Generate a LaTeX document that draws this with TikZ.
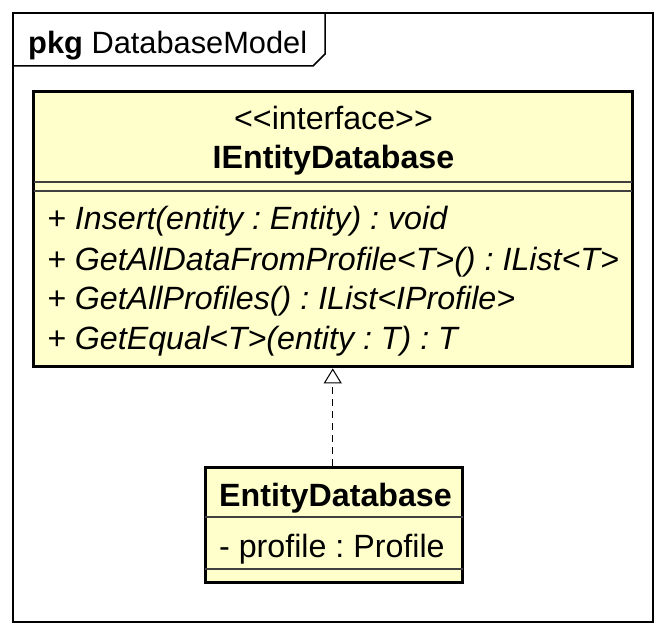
\documentclass[tikz,border=0pt]{standalone}
\usepackage{fontspec}
\setmainfont{Liberation Sans}
\usetikzlibrary{arrows.meta}

\definecolor{umlfill}{RGB}{255,255,204}

\tikzset{
  classbox/.style={draw=black, line width=3pt, fill=umlfill, inner sep=0pt},
  sepline/.style={draw=black!75, line width=1.5pt},
  umltext/.style={inner sep=0pt, font=\fontsize{32.2}{38}\selectfont},
  realize/.style={dash pattern=on 7pt off 5pt, line width=1pt,
    -{Triangle[open, width=18pt, length=15pt]}},
}

\begin{document}
\frenchspacing
\begin{tikzpicture}[x=1pt, y=-1pt]
\useasboundingbox (0,0) rectangle (666,636);

%% package frame
\draw[line width=1.5pt] (13,13) rectangle (653,622);
\draw[line width=1.5pt] (13,66) -- (313,66) -- (325,54) -- (325,13);
\node[umltext, font=\fontsize{30.8}{36}\selectfont, anchor=base west] (pkg) at (28,54) {\textbf{pkg} DatabaseModel};

%% interface IEntityDatabase
\node[classbox, minimum width=598.5pt, minimum height=275pt] (iface) at (332.75,229.4) {};
\node[umltext, anchor=base] (stereo) at (333.5,130) {<{}<interface>{}>};
\node[umltext, anchor=base] (ifacename) at (333.5,169) {\textbf{IEntityDatabase}};
\draw[sepline] (33.5,182) -- (632,182);
\draw[sepline] (33.5,191) -- (632,191);

%% operations
\node[umltext, anchor=base west] (opinsert) at (47,230) {\textit{+ Insert(entity : Entity) : void}};
\node[umltext, anchor=base west] (opdata) at (47,270) {\textit{+ GetAllDataFromProfile<T>() : IList<T>}};
\node[umltext, anchor=base west] (opprofiles) at (47,309) {\textit{+ GetAllProfiles() : IList<IProfile>}};
\node[umltext, anchor=base west] (opequal) at (47,349) {\textit{+ GetEqual<T>(entity : T) : T}};

%% class EntityDatabase
\node[classbox, minimum width=257.7pt, minimum height=115.5pt] (impl) at (333.9,524.8) {};
\node[umltext, anchor=base] (implname) at (335.5,506) {\textbf{EntityDatabase}};
\draw[sepline] (205,517) -- (462.7,517);
\node[umltext, anchor=base west] (attrprofile) at (219,557) {- profile : Profile};
\draw[sepline] (205,569) -- (462.7,569);

%% realization
\draw[realize] (impl.north -| iface.south) -- (iface.south);
\end{tikzpicture}
\end{document}
